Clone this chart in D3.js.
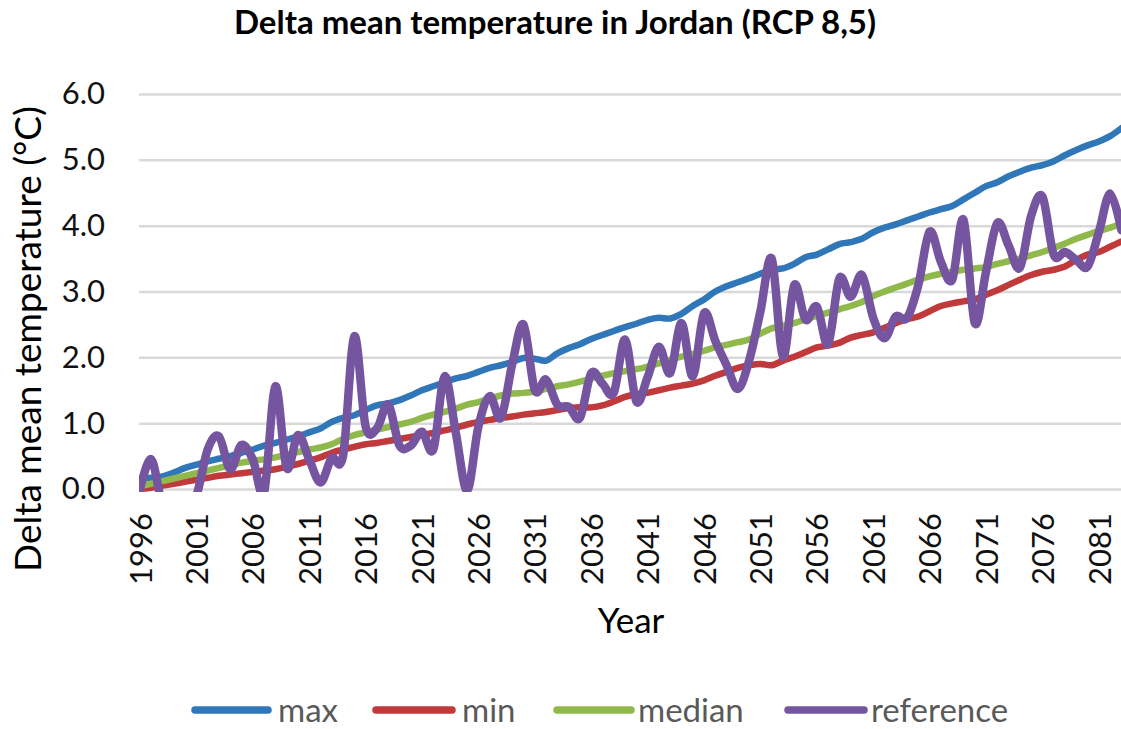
<!DOCTYPE html>
<html>
<head>
<meta charset="utf-8">
<script src="https://cdn.jsdelivr.net/npm/d3@7"></script>
<style>
  html, body { margin: 0; padding: 0; background: #fff; }
  svg { display: block; font-family: Lato, "Open Sans", sans-serif; }
</style>
</head>
<body>
<svg id="chart" width="1121" height="729"></svg>
<script>
// Yearly delta of mean temperature (°C) relative to the reference period
const firstYear = 1996;
const lastYear = 2083;
const years = d3.range(firstYear, lastYear + 1);

const maxSeries = [
  0.15, 0.17, 0.19, 0.25, 0.32, 0.37, 0.42, 0.46, 0.50, 0.55,
  0.60, 0.66, 0.70, 0.75, 0.80, 0.86, 0.92, 1.02, 1.08, 1.12,
  1.20, 1.27, 1.30, 1.35, 1.42, 1.50, 1.56, 1.62, 1.68, 1.72,
  1.78, 1.84, 1.88, 1.93, 1.99, 1.98, 1.95, 2.06, 2.14, 2.20,
  2.28, 2.34, 2.40, 2.46, 2.51, 2.57, 2.60, 2.59, 2.66, 2.78,
  2.88, 3.00, 3.08, 3.14, 3.20, 3.27, 3.33, 3.35, 3.42, 3.52,
  3.56, 3.64, 3.72, 3.75, 3.80, 3.90, 3.97, 4.02, 4.08, 4.14,
  4.20, 4.25, 4.30, 4.40, 4.50, 4.60, 4.66, 4.75, 4.82, 4.88,
  4.92, 4.98, 5.07, 5.15, 5.22, 5.28, 5.36, 5.48
];

const minSeries = [
  0.00, 0.02, 0.05, 0.08, 0.11, 0.14, 0.17, 0.20, 0.22, 0.24,
  0.26, 0.28, 0.30, 0.34, 0.38, 0.43, 0.48, 0.55, 0.60, 0.64,
  0.68, 0.70, 0.73, 0.76, 0.79, 0.82, 0.85, 0.89, 0.93, 0.98,
  1.02, 1.05, 1.08, 1.10, 1.13, 1.15, 1.17, 1.20, 1.23, 1.24,
  1.24, 1.27, 1.33, 1.40, 1.44, 1.46, 1.50, 1.54, 1.57, 1.60,
  1.65, 1.72, 1.78, 1.84, 1.88, 1.90, 1.88, 1.95, 2.01, 2.08,
  2.15, 2.18, 2.22, 2.30, 2.34, 2.38, 2.45, 2.52, 2.58, 2.62,
  2.70, 2.78, 2.82, 2.85, 2.88, 2.95, 3.02, 3.10, 3.18, 3.25,
  3.30, 3.33, 3.38, 3.48, 3.56, 3.60, 3.68, 3.76
];

const medianSeries = [
  0.05, 0.08, 0.12, 0.16, 0.20, 0.24, 0.28, 0.32, 0.36, 0.40,
  0.43, 0.45, 0.48, 0.52, 0.56, 0.60, 0.63, 0.68, 0.76, 0.82,
  0.86, 0.90, 0.94, 0.98, 1.02, 1.08, 1.13, 1.17, 1.22, 1.28,
  1.32, 1.37, 1.42, 1.45, 1.46, 1.48, 1.52, 1.56, 1.59, 1.63,
  1.68, 1.72, 1.76, 1.79, 1.82, 1.86, 1.91, 1.96, 2.01, 2.05,
  2.10, 2.15, 2.19, 2.23, 2.27, 2.36, 2.44, 2.48, 2.52, 2.58,
  2.63, 2.68, 2.73, 2.78, 2.84, 2.93, 3.00, 3.06, 3.12, 3.18,
  3.23, 3.27, 3.30, 3.33, 3.35, 3.37, 3.42, 3.46, 3.50, 3.55,
  3.60, 3.66, 3.73, 3.80, 3.86, 3.92, 3.97, 4.03
];

const referenceSeries = [
  0.00, 0.45, -0.25, -0.35, -0.30, -0.10, 0.60, 0.80, 0.30, 0.67,
  0.45, -0.05, 1.56, 0.32, 0.82, 0.45, 0.10, 0.47, 0.50, 2.32,
  0.95, 0.92, 1.28, 0.66, 0.66, 0.87, 0.60, 1.71, 0.85, -0.02,
  0.95, 1.41, 1.08, 1.90, 2.50, 1.50, 1.66, 1.28, 1.25, 1.08,
  1.76, 1.60, 1.46, 2.27, 1.33, 1.70, 2.16, 1.76, 2.52, 1.71,
  2.67, 2.25, 1.88, 1.52, 1.95, 2.70, 3.50, 2.01, 3.10, 2.57,
  2.77, 2.20, 3.20, 2.92, 3.25, 2.60, 2.29, 2.62, 2.60, 3.10,
  3.91, 3.45, 3.18, 4.09, 2.52, 3.30, 4.04, 3.70, 3.36, 4.15,
  4.44, 3.56, 3.60, 3.48, 3.38, 3.90, 4.49, 3.93
];

const seriesNames = ["max", "min", "median", "reference"];
const seriesColors = ["#2f77b9", "#c0393b", "#8fb94b", "#7655a0"];
const seriesWidths = [6.5, 6.5, 6.5, 8.5];
const seriesValues = [maxSeries, minSeries, medianSeries, referenceSeries];

const yTicks = [0, 1, 2, 3, 4, 5, 6];
const xTickYears = [1996, 2001, 2006, 2011, 2016, 2021, 2026, 2031, 2036,
                    2041, 2046, 2051, 2056, 2061, 2066, 2071, 2076, 2081];

const titleText = "Delta mean temperature in Jordan (RCP 8,5)";
const yTitleText = "Delta mean temperature (°C)";
const xTitleText = "Year";

// ---- layout ----
const svg = d3.select("#chart");
const W = 1121, H = 729;
const plot = { left: 140, right: 1121.4, top: 94, bottom: 489 };

svg.append("rect").attr("width", W).attr("height", H).attr("fill", "#fff");

const x = d3.scaleLinear().domain([firstYear, lastYear]).range([plot.left, plot.right]);
const y = d3.scaleLinear().domain([0, 6]).range([plot.bottom, plot.top]);

// horizontal gridlines with value labels
const yAxis = d3.axisLeft(y).tickValues(yTicks).tickSize(-(W - plot.left + 1))
  .tickPadding(34).tickFormat(d3.format(".1f"));
const gy = svg.append("g").attr("transform", `translate(${plot.left - 1},0)`).call(yAxis);
gy.select(".domain").remove();
gy.selectAll(".tick line").attr("stroke", "#d9d9d9").attr("stroke-width", 2.5);
gy.selectAll(".tick text")
  .attr("font-family", "Lato, sans-serif").attr("font-size", 31).attr("fill", "#111");

// category labels along the bottom, rotated
const xAxis = d3.axisBottom(x).tickValues(xTickYears).tickSize(0).tickFormat(d3.format("d"));
const gx = svg.append("g").attr("transform", `translate(0,${plot.bottom})`).call(xAxis);
gx.select(".domain").remove();
gx.selectAll(".tick text")
  .attr("font-family", "Lato, sans-serif").attr("font-size", 31).attr("fill", "#111")
  .attr("text-anchor", "end")
  .attr("transform", "translate(0,24) rotate(-90)")
  .attr("x", 0).attr("y", 0).attr("dy", "0.36em");

// series lines, clipped to the plotting area
svg.append("defs").append("clipPath").attr("id", "plotClip")
  .append("rect").attr("x", plot.left - 1).attr("y", plot.top - 10)
  .attr("width", W - plot.left + 2).attr("height", plot.bottom - plot.top + 13);

const line = d3.line()
  .x((d, i) => x(years[i]))
  .y(d => y(d))
  .curve(d3.curveCatmullRom.alpha(0));

const gLines = svg.append("g").attr("clip-path", "url(#plotClip)");
seriesValues.forEach((vals, k) => {
  gLines.append("path")
    .datum(vals)
    .attr("d", line)
    .attr("fill", "none")
    .attr("stroke", seriesColors[k])
    .attr("stroke-width", seriesWidths[k])
    .attr("stroke-linejoin", "round")
    .attr("stroke-linecap", "round");
});

// titles
svg.append("text").attr("x", 555).attr("y", 34).attr("text-anchor", "middle")
  .attr("font-family", "Lato, sans-serif").attr("font-weight", "bold")
  .attr("font-size", 33).attr("fill", "#000").text(titleText);

svg.append("text").attr("transform", "translate(41,339) rotate(-90)")
  .attr("text-anchor", "middle")
  .attr("font-family", "Lato, sans-serif").attr("font-size", 37).attr("fill", "#000")
  .text(yTitleText);

svg.append("text").attr("x", 631).attr("y", 633).attr("text-anchor", "middle")
  .attr("font-family", "Lato, sans-serif").attr("font-size", 35).attr("fill", "#000")
  .text(xTitleText);

// legend
const legendItems = [
  { x0: 191, x1: 272, tx: 278 },
  { x0: 372, x1: 456, tx: 462 },
  { x0: 553, x1: 635, tx: 638 },
  { x0: 784, x1: 868, tx: 871 }
];
const legendY = 710;
const gLeg = svg.append("g");
legendItems.forEach((it, k) => {
  gLeg.append("line")
    .attr("x1", it.x0 + 4).attr("x2", it.x1 - 4)
    .attr("y1", legendY).attr("y2", legendY)
    .attr("stroke", seriesColors[k]).attr("stroke-width", 7.5)
    .attr("stroke-linecap", "round");
  gLeg.append("text")
    .attr("x", it.tx).attr("y", legendY).attr("dy", "0.35em")
    .attr("font-family", "Lato, sans-serif").attr("font-size", 33).attr("fill", "#595959")
    .text(seriesNames[k]);
});
</script>
</body>
</html>
